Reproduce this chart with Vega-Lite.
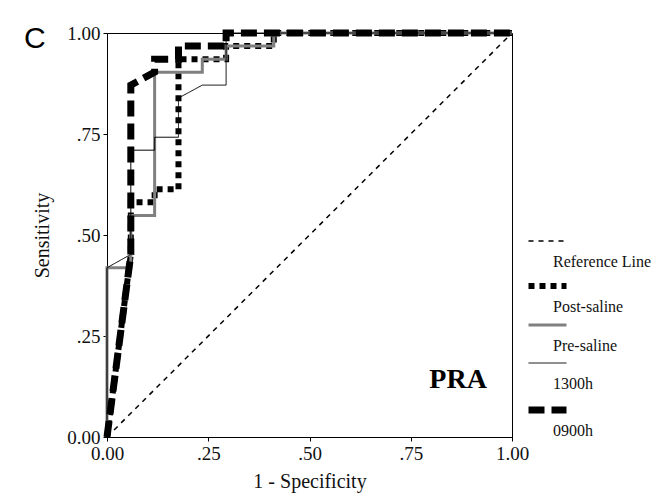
{
  "$schema": "https://vega.github.io/schema/vega-lite/v6.json",
  "width": 405,
  "height": 404,
  "autosize": "none",
  "padding": {"left": 107, "top": 33, "right": 143, "bottom": 63},
  "background": "white",
  "config": {
    "view": {"stroke": "black", "strokeWidth": 1},
    "axis": {
      "grid": false,
      "domainColor": "black",
      "tickColor": "black",
      "tickSize": 4,
      "labelFont": "Liberation Serif",
      "labelFontSize": 19,
      "labelColor": "#111",
      "labelPadding": 3,
      "titleFont": "Liberation Serif",
      "titleFontSize": 20,
      "titleFontWeight": "normal",
      "titleColor": "#111"
    },
    "legend": {
      "orient": "none",
      "legendX": 418,
      "legendY": 203,
      "padding": 0,
      "symbolType": "stroke",
      "symbolSize": 1444,
      "rowPadding": 4,
      "labelOffset": -17,
      "labelFont": "Liberation Serif",
      "labelFontSize": 16,
      "labelColor": "#111",
      "labelLimit": 200
    }
  },
  "layer": [
    {
      "data": {
        "values": [
          {"series": "Reference Line", "i": 0, "fpr": 0, "tpr": 0},
          {"series": "Reference Line", "i": 1, "fpr": 1, "tpr": 1},

          {"series": "Post-saline", "i": 0, "fpr": 0, "tpr": 0},
          {"series": "Post-saline", "i": 1, "fpr": 0.0588, "tpr": 0.452},
          {"series": "Post-saline", "i": 2, "fpr": 0.0588, "tpr": 0.581},
          {"series": "Post-saline", "i": 3, "fpr": 0.1176, "tpr": 0.581},
          {"series": "Post-saline", "i": 4, "fpr": 0.1176, "tpr": 0.613},
          {"series": "Post-saline", "i": 5, "fpr": 0.1765, "tpr": 0.613},
          {"series": "Post-saline", "i": 6, "fpr": 0.1765, "tpr": 0.935},
          {"series": "Post-saline", "i": 7, "fpr": 0.2941, "tpr": 0.935},
          {"series": "Post-saline", "i": 8, "fpr": 0.2941, "tpr": 0.968},
          {"series": "Post-saline", "i": 9, "fpr": 0.4118, "tpr": 0.968},
          {"series": "Post-saline", "i": 10, "fpr": 0.4118, "tpr": 1},
          {"series": "Post-saline", "i": 11, "fpr": 1, "tpr": 1},

          {"series": "Pre-saline", "i": 0, "fpr": 0, "tpr": 0},
          {"series": "Pre-saline", "i": 1, "fpr": 0, "tpr": 0.419},
          {"series": "Pre-saline", "i": 2, "fpr": 0.0588, "tpr": 0.419},
          {"series": "Pre-saline", "i": 3, "fpr": 0.0588, "tpr": 0.548},
          {"series": "Pre-saline", "i": 4, "fpr": 0.1176, "tpr": 0.548},
          {"series": "Pre-saline", "i": 5, "fpr": 0.1176, "tpr": 0.903},
          {"series": "Pre-saline", "i": 6, "fpr": 0.2353, "tpr": 0.903},
          {"series": "Pre-saline", "i": 7, "fpr": 0.2353, "tpr": 0.935},
          {"series": "Pre-saline", "i": 8, "fpr": 0.2941, "tpr": 0.935},
          {"series": "Pre-saline", "i": 9, "fpr": 0.2941, "tpr": 0.968},
          {"series": "Pre-saline", "i": 10, "fpr": 0.4118, "tpr": 0.968},
          {"series": "Pre-saline", "i": 11, "fpr": 0.4118, "tpr": 1},
          {"series": "Pre-saline", "i": 12, "fpr": 1, "tpr": 1},

          {"series": "1300h", "i": 0, "fpr": 0, "tpr": 0},
          {"series": "1300h", "i": 1, "fpr": 0, "tpr": 0.419},
          {"series": "1300h", "i": 2, "fpr": 0.0588, "tpr": 0.452},
          {"series": "1300h", "i": 3, "fpr": 0.0588, "tpr": 0.71},
          {"series": "1300h", "i": 4, "fpr": 0.1176, "tpr": 0.71},
          {"series": "1300h", "i": 5, "fpr": 0.1176, "tpr": 0.742},
          {"series": "1300h", "i": 6, "fpr": 0.1765, "tpr": 0.742},
          {"series": "1300h", "i": 7, "fpr": 0.1765, "tpr": 0.839},
          {"series": "1300h", "i": 8, "fpr": 0.2353, "tpr": 0.871},
          {"series": "1300h", "i": 9, "fpr": 0.2941, "tpr": 0.871},
          {"series": "1300h", "i": 10, "fpr": 0.2941, "tpr": 1},
          {"series": "1300h", "i": 11, "fpr": 1, "tpr": 1},

          {"series": "0900h", "i": 0, "fpr": 0, "tpr": 0},
          {"series": "0900h", "i": 1, "fpr": 0.0588, "tpr": 0.452},
          {"series": "0900h", "i": 2, "fpr": 0.0588, "tpr": 0.871},
          {"series": "0900h", "i": 3, "fpr": 0.1176, "tpr": 0.903},
          {"series": "0900h", "i": 4, "fpr": 0.1176, "tpr": 0.935},
          {"series": "0900h", "i": 5, "fpr": 0.1765, "tpr": 0.935},
          {"series": "0900h", "i": 6, "fpr": 0.1765, "tpr": 0.968},
          {"series": "0900h", "i": 7, "fpr": 0.2941, "tpr": 0.968},
          {"series": "0900h", "i": 8, "fpr": 0.2941, "tpr": 1},
          {"series": "0900h", "i": 9, "fpr": 1, "tpr": 1}
        ]
      },
      "mark": {"type": "line", "clip": false, "strokeCap": "butt", "strokeJoin": "miter"},
      "encoding": {
        "x": {
          "field": "fpr", "type": "quantitative",
          "scale": {"domain": [0, 1], "nice": false, "zero": false},
          "axis": {
            "title": "1 - Specificity",
            "values": [0, 0.25, 0.5, 0.75, 1],
            "labelExpr": "datum.value == 0 || datum.value == 1 ? format(datum.value, '.2f') : slice(format(datum.value, '.2f'), 1)",
            "titlePadding": 8,
            "labelFlush": false
          }
        },
        "y": {
          "field": "tpr", "type": "quantitative",
          "scale": {"domain": [0, 1], "nice": false, "zero": false},
          "axis": {
            "title": "Sensitivity",
            "values": [0, 0.25, 0.5, 0.75, 1],
            "labelExpr": "datum.value == 0 || datum.value == 1 ? format(datum.value, '.2f') : slice(format(datum.value, '.2f'), 1)",
            "titlePadding": 14,
            "labelFlush": false
          }
        },
        "order": {"field": "i", "type": "quantitative"},
        "color": {
          "field": "series", "type": "nominal",
          "scale": {
            "domain": ["Reference Line", "Post-saline", "Pre-saline", "1300h", "0900h"],
            "range": ["black", "black", "#808080", "black", "black"]
          },
          "legend": {
            "title": null,
            "encode": {"symbols": {"update": {"y": {"value": 5}}}, "labels": {"update": {"y": {"value": 26}}}}
          }
        },
        "strokeDash": {
          "field": "series", "type": "nominal",
          "scale": {
            "domain": ["Reference Line", "Post-saline", "Pre-saline", "1300h", "0900h"],
            "range": [[5, 5], [6, 5], [1, 0], [1, 0], [16, 7]]
          },
          "legend": {
            "title": null,
            "encode": {"symbols": {"update": {"y": {"value": 5}}}, "labels": {"update": {"y": {"value": 26}}}}
          }
        },
        "strokeWidth": {
          "field": "series", "type": "nominal",
          "scale": {
            "type": "ordinal",
            "domain": ["Reference Line", "Post-saline", "Pre-saline", "1300h", "0900h"],
            "range": [1.5, 6, 3, 1, 7]
          },
          "legend": {
            "title": null,
            "encode": {"symbols": {"update": {"y": {"value": 5}}}, "labels": {"update": {"y": {"value": 26}}}}
          }
        }
      }
    },
    {
      "data": {"values": [{"px": -0.178, "py": 0.985, "label": "C"}]},
      "mark": {"type": "text", "font": "Liberation Sans", "fontSize": 30, "baseline": "middle", "align": "center", "color": "black"},
      "encoding": {
        "x": {"field": "px", "type": "quantitative"},
        "y": {"field": "py", "type": "quantitative"},
        "text": {"field": "label"}
      }
    },
    {
      "data": {"values": [{"px": 0.867, "py": 0.141, "label": "PRA"}]},
      "mark": {"type": "text", "font": "Liberation Serif", "fontSize": 28, "fontWeight": "bold", "baseline": "middle", "align": "center", "color": "black"},
      "encoding": {
        "x": {"field": "px", "type": "quantitative"},
        "y": {"field": "py", "type": "quantitative"},
        "text": {"field": "label"}
      }
    }
  ]
}
